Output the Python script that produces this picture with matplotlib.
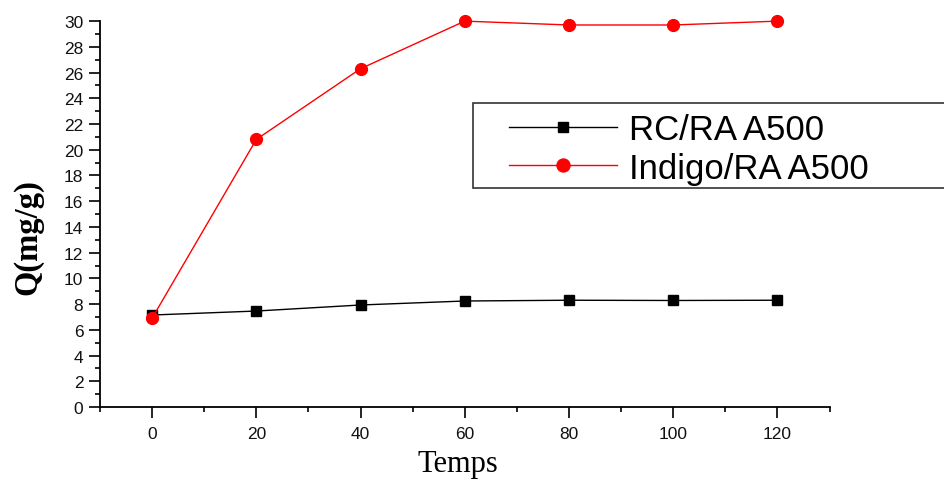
import matplotlib.pyplot as plt
from matplotlib.patches import Rectangle
from matplotlib.ticker import MultipleLocator

# data
temps = [0, 20, 40, 60, 80, 100, 120]
rc_ra = [7.15, 7.46, 7.93, 8.24, 8.3, 8.28, 8.3]
indigo_ra = [6.9, 20.8, 26.3, 30.0, 29.7, 29.7, 30.0]

W, H = 945, 481
fig = plt.figure(figsize=(W / 100, H / 100), dpi=100)
ax = fig.add_axes([0.1058, 0.1518, 0.772, 0.8022])

ax.plot(temps, rc_ra, color='black', lw=1, marker='s', ms=7, label='RC/RA A500', clip_on=False)
ax.plot(temps, indigo_ra, color='red', lw=1, marker='o', ms=8.5, label='Indigo/RA A500', clip_on=False)

ax.set_xlim(-10, 130)
ax.set_ylim(0, 30)
ax.xaxis.set_major_locator(MultipleLocator(20))
ax.xaxis.set_minor_locator(MultipleLocator(10))
ax.yaxis.set_major_locator(MultipleLocator(2))
ax.yaxis.set_minor_locator(MultipleLocator(1))

for s in ['top', 'right']:
    ax.spines[s].set_visible(False)
for s in ['left', 'bottom']:
    ax.spines[s].set_linewidth(1.3)

ax.tick_params(which='major', direction='out', length=8, width=1.2)
ax.tick_params(which='minor', direction='out', length=3.8, width=1.2)
for lab in ax.get_xticklabels() + ax.get_yticklabels():
    lab.set_fontfamily('Liberation Sans')
    lab.set_fontsize(12.5)
    lab.set_color('#111111')
ax.tick_params(axis='x', pad=6)
ax.tick_params(axis='y', pad=4)

ax.set_xlabel('Temps', family='Liberation Serif', fontsize=22)
ax.xaxis.set_label_coords(0.49, -0.108)
ax.set_ylabel('Q(mg/g)', family='Liberation Serif', fontsize=23.5, fontweight='bold')
ax.yaxis.set_label_coords(-0.078, 0.443)

# legend frame drawn on its own so the inner padding can differ per side
frame = Rectangle((473 / W, 1 - 189 / H), 0.6, 85 / H, transform=fig.transFigure,
                  facecolor='white', edgecolor='#333333', lw=1.2, zorder=5, clip_on=False)
ax.add_patch(frame)
leg = ax.legend(loc='upper left', bbox_to_anchor=(509 / W, 1 - 114 / H),
                bbox_transform=fig.transFigure,
                prop={'family': 'Liberation Sans', 'size': 25},
                handlelength=3.1, handletextpad=0.35, borderpad=0, labelspacing=0.16,
                markerscale=1.1, frameon=False, borderaxespad=0)
leg.set_zorder(6)

fig.savefig('out.png', dpi=100)
